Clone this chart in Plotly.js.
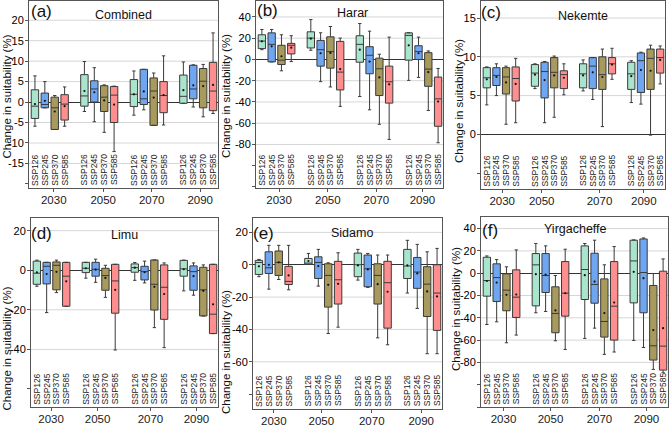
<!DOCTYPE html>
<html><head><meta charset="utf-8">
<script src="https://cdn.plot.ly/plotly-3.0.1.min.js"></script>
<style>html,body{margin:0;padding:0;background:#fff}#chart{width:669px;height:426px}</style>
</head><body><div id="chart"></div>
<script>
const years = ['2030', '2050', '2070', '2090'];
const scenarios = ['SSP126', 'SSP245', 'SSP370', 'SSP585'];
const panelNames = ['Combined', 'Harar', 'Nekemte', 'Limu', 'Sidamo', 'Yirgacheffe'];
const panelLetters = ['(a)', '(b)', '(c)', '(d)', '(e)', '(f)'];

// each row: [lower whisker, Q1, median, Q3, upper whisker, mean]
// rows ordered 2030 (SSP126, SSP245, SSP370, SSP585), 2050 ..., 2070 ..., 2090 ...
const combined = [
  [-5.9, -4.0, -1.0, 3.0, 6.4, -0.5], [-1.4, -1.4, -0.6, 2.2, 5.0, 0.3], [-6.7, -6.7, -1.4, 1.2, 1.6, -2.3], [-5.9, -4.4, -0.5, 1.8, 3.7, -1.0],
  [-2.3, -1.0, 1.5, 6.7, 9.9, 2.7], [-4.8, 0.0, 3.2, 5.2, 8.4, 2.4], [-7.4, -2.3, 1.2, 4.0, 4.2, 0.4], [-12.1, -5.0, 1.7, 3.8, 3.9, -0.6],
  [-3.2, -1.1, 1.9, 5.5, 7.6, 1.9], [-1.9, -0.6, 0.8, 8.0, 8.0, 2.6], [-5.7, -5.7, 2.7, 5.9, 7.1, 1.1], [-5.6, -2.6, 1.6, 5.0, 11.3, 1.7],
  [-0.3, -0.3, 1.4, 6.6, 9.8, 2.9], [-1.2, 0.8, 3.2, 9.0, 9.1, 4.1], [-3.6, -1.4, 5.1, 8.2, 9.2, 3.9], [-2.8, -2.1, 2.7, 9.7, 16.9, 4.2]
];
const harar = [
  [9.2, 10.2, 17.3, 23.2, 28.2, 17.0], [-2.3, -2.3, 14.2, 25.0, 28.2, 12.3], [-10.7, -4.8, -0.7, 13.3, 23.2, 3.0], [-2.0, 5.2, 13.3, 15.1, 22.3, 11.1],
  [8.6, 10.8, 20.1, 26.0, 37.5, 19.5], [-20.9, -6.3, 9.2, 17.9, 25.1, 5.8], [-25.9, -8.2, 7.4, 21.3, 31.0, 6.1], [-44.2, -28.7, -11.9, 17.0, 20.1, -9.1],
  [-34.9, -2.6, 14.2, 22.3, 33.8, 9.2], [-47.4, -13.5, 3.9, 12.0, 26.6, -2.0], [-61.0, -34.0, -8.8, 1.2, 4.9, -16.9], [-75.3, -41.1, -21.0, -6.3, 21.0, -23.4],
  [-19.7, -0.7, 22.6, 25.0, 25.1, 13.3], [-16.9, -0.1, 7.4, 12.9, 21.0, 5.8], [-48.0, -25.3, -9.1, 6.4, 8.0, -11.9], [-78.4, -62.9, -37.1, -16.6, -8.5, -39.6]
];
const nekemte = [
  [3.8, 6.0, 7.3, 8.6, 8.7, 7.1], [5.0, 6.3, 7.6, 8.6, 9.1, 7.4], [1.3, 5.2, 7.4, 8.6, 8.8, 6.7], [1.5, 4.3, 7.2, 8.7, 9.8, 6.5],
  [5.9, 6.2, 7.9, 9.0, 9.1, 7.7], [1.5, 4.7, 8.1, 9.3, 9.4, 7.0], [2.2, 6.0, 8.0, 9.9, 10.1, 7.6], [5.1, 5.9, 7.7, 8.2, 9.1, 7.3],
  [5.6, 6.0, 7.8, 9.1, 9.6, 7.6], [4.5, 5.9, 8.8, 9.9, 9.9, 8.0], [1.0, 5.8, 7.7, 10.0, 11.0, 7.4], [7.1, 7.8, 9.1, 9.9, 11.1, 9.0],
  [4.1, 5.8, 7.8, 9.3, 9.5, 7.5], [3.9, 5.4, 9.5, 10.5, 10.6, 8.3], [-0.1, 5.8, 9.8, 11.0, 11.5, 8.2], [6.5, 7.9, 9.9, 11.0, 11.4, 9.6]
];
const limu = [
  [-8.1, -7.1, -1.5, 4.6, 5.1, -1.0], [-21.4, -6.9, 2.0, 4.0, 4.0, -1.9], [-11.3, -9.9, 2.5, 4.2, 5.1, -0.8], [-18.2, -18.2, -3.0, 4.0, 4.0, -5.6],
  [-4.0, -1.2, 1.0, 4.0, 4.0, 1.0], [-6.1, -3.0, 0.5, 4.0, 5.6, 0.3], [-13.7, -10.1, -2.7, 1.0, 2.5, -3.9], [-40.3, -21.7, -5.4, 3.0, 3.0, -9.9],
  [-5.1, -1.0, 1.3, 3.2, 3.9, 1.3], [-6.4, -4.9, -0.7, 2.0, 4.6, -1.0], [-29.0, -20.1, -7.1, 5.2, 5.2, -8.4], [-39.1, -24.8, -8.6, 2.7, 3.7, -12.0],
  [-10.4, -3.0, 0.7, 5.0, 5.1, 0.5], [-12.6, -10.1, -0.7, 2.2, 3.7, -3.0], [-23.1, -23.1, -9.9, 1.5, 2.7, -10.4], [-32.0, -32.0, -22.2, 3.0, 3.0, -17.2]
];
const sidamo = [
  [-7.4, -6.0, 1.4, 2.7, 3.3, -1.0], [-15.1, -5.4, -1.9, 8.0, 12.0, 0.0], [-9.1, -6.6, 1.4, 8.5, 12.0, 1.5], [-15.5, -12.2, -10.3, -1.0, 12.0, -6.6],
  [0.2, 0.2, 1.0, 3.9, 7.0, 2.3], [-13.2, -8.5, 1.4, 4.9, 9.5, -0.8], [-42.5, -26.2, -6.6, 0.6, 1.2, -12.4], [-38.6, -24.3, -9.3, 2.1, 7.4, -11.8],
  [-9.5, -7.4, 0.0, 7.2, 9.5, -0.4], [-14.0, -13.6, -2.5, 6.0, 7.0, -2.9], [-45.2, -24.3, -6.6, 0.6, 6.0, -12.0], [-49.5, -39.2, -11.1, 2.1, 6.0, -16.7],
  [-17.5, -8.5, -0.8, 9.5, 15.1, -0.4], [-27.0, -14.6, -4.5, 4.5, 12.6, -5.4], [-55.0, -32.0, -12.0, -1.2, 8.0, -16.5], [-55.0, -40.6, -17.5, 0.0, 10.1, -19.6]
];
const yirgacheffe = [
  [-46.0, -20.6, -6.6, 14.3, 15.5, -7.0], [-43.6, -25.4, -3.9, 8.4, 12.2, -8.4], [-62.4, -33.7, -15.2, -0.6, 5.7, -19.4], [-55.5, -39.7, -21.5, 3.0, 20.9, -19.1],
  [-35.5, -29.3, 7.5, 17.6, 26.6, -0.9], [-34.3, -17.3, -2.1, 17.6, 24.5, -1.2], [-60.6, -53.4, -36.1, -12.2, -2.1, -33.4], [-68.4, -38.5, -17.9, 10.4, 21.5, -18.0],
  [-58.5, -23.6, 3.3, 24.5, 26.6, -1.8], [-49.3, -26.9, -10.1, 17.9, 29.6, -7.5], [-72.8, -57.3, -43.3, -5.1, 7.5, -35.8], [-70.7, -60.0, -29.6, 10.4, 23.9, -26.3],
  [-60.3, -26.6, 11.0, 29.6, 29.9, 1.2], [-66.6, -35.5, 0.6, 30.7, 31.6, -4.5], [-86.3, -77.9, -65.1, -11.0, -0.3, -51.0], [-89.3, -86.9, -65.4, 1.8, 12.8, -49.3]
];
const panelData = [combined, harar, nekemte, limu, sidamo, yirgacheffe];

// layout / styling (pixels in the 669x426 canvas)
const W = 669, H = 426;
const fills = ['#a9e5cd', '#6fa6f2', '#a89a5c', '#ff8e8e'];
const panels = [
  {x0: 29, x1: 218, y0: 1, y1: 188, yr: [-21, 24.7], tv: [-20,-15,-10,-5,0,5,10,15,20], lab: [-15,-10,-5,0,5,10,15,20], yt: [1.9,6.9,11.8,16.7], letter: [41,12], title: [123,15], ytitle: [6.5,97]},
  {x0: 256, x1: 443, y0: 1, y1: 188, yr: [-121, 55], tv: [-120,-100,-80,-60,-40,-20,0,20,40], lab: [-80,-60,-40,-20,0,20,40], yt: [1.76,6.74,11.7,16.4], letter: [267,10], title: [352,13], ytitle: [226,96]},
  {x0: 481, x1: 665, y0: 1, y1: 189, yr: [-7.05, 17.2], tv: [-5,0,5,10,15], lab: [0,5,10,15], yt: [1.6,5.7,11.7,16.3], letter: [491,13], title: [583,16], ytitle: [459,101]},
  {x0: 31, x1: 218, y0: 218, y1: 407, yr: [-69.1, 26.4], tv: [-60,-40,-20,0,20], lab: [-40,-20,0,20], yt: [1.45,6.2,11.6,16.3], letter: [41,233], title: [124,235], ytitle: [6.5,349]},
  {x0: 253, x1: 442, y0: 218, y1: 409, yr: [-89.2, 28.9], tv: [-80,-60,-40,-20,0,20], lab: [-60,-40,-20,0,20], yt: [1.5,6.3,11.4,16.4], letter: [263,233], title: [352,233], ytitle: [226,352]},
  {x0: 481, x1: 668, y0: 217, y1: 407, yr: [-120, 50.4], tv: [-120,-100,-80,-60,-40,-20,0,20,40], lab: [-80,-60,-40,-20,0,20,40], yt: [1.7,6.5,11.5,16.3], letter: [490,230], title: [575,229], ytitle: [456,309]}
];

const FONT = 'Liberation Sans, Arial, sans-serif';
const traces = [];
const annotations = [];
const shapes = [];
const layout = {
  width: W, height: H, margin: {l: 0, r: 0, t: 0, b: 0},
  paper_bgcolor: '#fff', plot_bgcolor: '#fff', boxmode: 'overlay', showlegend: false,
  font: {family: FONT, color: '#1a1a1a'}, annotations: annotations, shapes: shapes
};

panels.forEach((p, pi) => {
  const sfx = pi === 0 ? '' : String(pi + 1);
  const xa = 'x' + sfx, ya = 'y' + sfx;
  const data = panelData[pi];
  layout['xaxis' + sfx] = {
    domain: [p.x0 / W, p.x1 / W], range: [-0.6, 18.5], anchor: ya,
    showline: true, mirror: true, linecolor: '#555', linewidth: 1, showgrid: false, zeroline: false,
    tickmode: 'array', tickvals: p.yt, ticktext: years, ticks: 'outside', ticklen: 3, tickcolor: '#555',
    ticklabelstandoff: -2,
    tickfont: {size: 11.5, family: FONT, color: '#1a1a1a'}, fixedrange: true
  };
  layout['yaxis' + sfx] = {
    domain: [1 - p.y1 / H, 1 - p.y0 / H], range: p.yr, anchor: xa,
    showline: true, mirror: true, linecolor: '#555', linewidth: 1, showgrid: false,
    zeroline: true, zerolinecolor: '#333', zerolinewidth: 1,
    tickmode: 'array', tickvals: p.tv, ticktext: p.tv.map(v => p.lab.includes(v) ? String(v) : ''),
    ticks: 'outside', ticklen: 3, tickcolor: '#555', ticklabelstandoff: -1,
    tickfont: {size: 11, family: FONT, color: '#000'}, fixedrange: true
  };
  // grid lines at labelled values
  p.lab.filter(v => v !== 0).forEach(v => {
    shapes.push({type: 'line', xref: xa + ' domain', yref: ya, x0: 0, x1: 1, y0: v, y1: v,
      line: {color: '#d6d6d6', width: 1}, layer: 'below'});
  });
  // boxes
  scenarios.forEach((s, si) => {
    const rows = years.map((y, yi) => data[yi * 4 + si]);
    const xs = years.map((y, yi) => yi * 5 + si);
    traces.push({
      type: 'box', xaxis: xa, yaxis: ya, x: xs,
      lowerfence: rows.map(r => r[0]), q1: rows.map(r => r[1]), median: rows.map(r => r[2]),
      q3: rows.map(r => r[3]), upperfence: rows.map(r => r[4]),
      width: 0.75, whiskerwidth: 0.45, fillcolor: fills[si],
      line: {color: '#3a3a3a', width: 1}, boxpoints: false, hoverinfo: 'skip', name: s
    });
    traces.push({
      type: 'scatter', mode: 'markers', xaxis: xa, yaxis: ya, x: xs, y: rows.map(r => r[5]),
      marker: {size: 2.2, color: '#111'}, hoverinfo: 'skip'
    });
    // SSP labels
    xs.forEach(xv => {
      annotations.push({text: s, xref: xa, yref: ya + ' domain', x: xv, y: 0.008,
        xanchor: 'center', yanchor: 'bottom', textangle: -90, showarrow: false,
        font: {size: 8.5, family: FONT, color: '#222'}, borderpad: 0});
    });
  });
  annotations.push({text: panelLetters[pi], xref: 'paper', yref: 'paper', x: p.letter[0] / W, y: 1 - p.letter[1] / H,
    xanchor: 'center', yanchor: 'middle', showarrow: false, font: {size: 17, family: FONT, color: '#111'}});
  annotations.push({text: panelNames[pi], xref: 'paper', yref: 'paper', x: p.title[0] / W, y: 1 - p.title[1] / H,
    xanchor: 'center', yanchor: 'middle', showarrow: false, font: {size: 12.5, family: FONT, color: '#111'}});
  annotations.push({text: 'Change in suitability (%)', xref: 'paper', yref: 'paper', x: p.ytitle[0] / W, y: 1 - p.ytitle[1] / H,
    xanchor: 'center', yanchor: 'middle', textangle: -90, showarrow: false, font: {size: 11.5, family: FONT, color: '#111'}});
});

Plotly.newPlot('chart', traces, layout, {staticPlot: true, displayModeBar: false});
</script>
</body></html>
